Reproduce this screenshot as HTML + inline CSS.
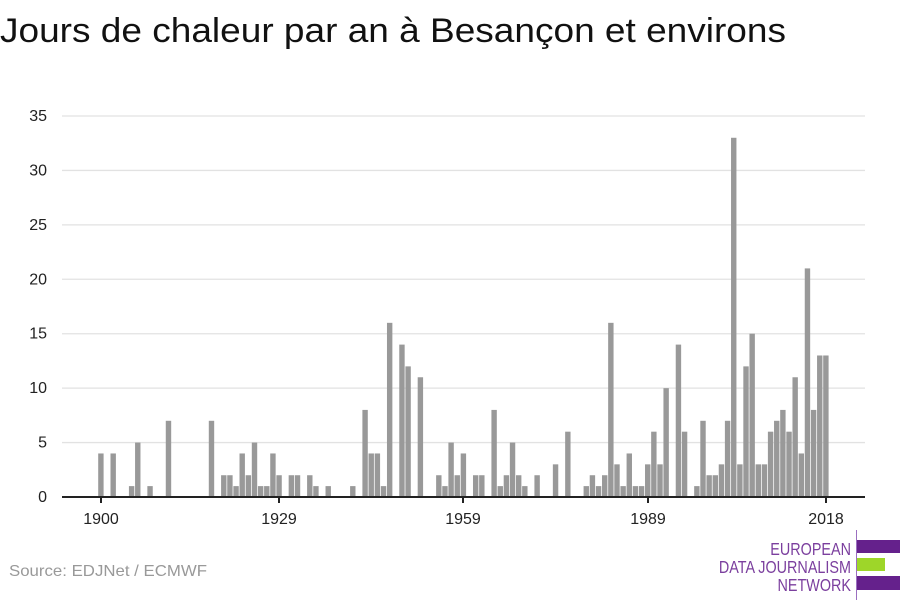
<!DOCTYPE html>
<html><head><meta charset="utf-8"><style>
body{margin:0;background:#fff;width:900px;height:600px;overflow:hidden}
svg{display:block}
text{font-family:"Liberation Sans","DejaVu Sans",sans-serif}
</style></head><body>
<svg id="s" width="900" height="600" xmlns="http://www.w3.org/2000/svg">
<text x="0" y="42" font-size="34" fill="#111" textLength="786" lengthAdjust="spacingAndGlyphs">Jours de chaleur par an à Besançon et environs</text>
<g id="grid"></g>
<g id="bars" fill="#999"></g>
<line x1="62" y1="497" x2="865" y2="497" stroke="#222" stroke-width="2"/>
<g stroke="#222" stroke-width="2">
<line x1="101" y1="497" x2="101" y2="503"/><line x1="279" y1="497" x2="279" y2="503"/>
<line x1="463" y1="497" x2="463" y2="503"/><line x1="648" y1="497" x2="648" y2="503"/>
<line x1="826" y1="497" x2="826" y2="503"/></g>
<g font-size="16" fill="#222" text-anchor="middle">
<text x="101" y="524">1900</text><text x="279" y="524">1929</text><text x="463" y="524">1959</text><text x="648" y="524">1989</text><text x="826" y="524">2018</text></g>
<text x="9" y="576" font-size="16" fill="#999" textLength="198" lengthAdjust="spacingAndGlyphs">Source: EDJNet / ECMWF</text>
<line x1="856.5" y1="530" x2="856.5" y2="600" stroke="#9b6fc0" stroke-width="1"/>
<rect x="857" y="540" width="43" height="13" fill="#65218c"/>
<rect x="857" y="558" width="28" height="13" fill="#9ed629"/>
<rect x="857" y="576" width="43" height="14" fill="#65218c"/>
<g font-size="18" fill="#7b3f9e" text-anchor="end" transform="translate(851,0) scale(0.8,1) translate(-851,0)">
<text x="851" y="555">EUROPEAN</text><text x="851" y="573">DATA JOURNALISM</text><text x="851" y="591">NETWORK</text></g>
</svg>
<script>
var d={1900:4,1902:4,1905:1,1906:5,1908:1,1911:7,1918:7,1920:2,1921:2,1922:1,1923:4,1924:2,1925:5,1926:1,1927:1,1928:4,1929:2,1931:2,1932:2,1934:2,1935:1,1937:1,1941:1,1943:8,1944:4,1945:4,1946:1,1947:16,1949:14,1950:12,1952:11,1955:2,1956:1,1957:5,1958:2,1959:4,1961:2,1962:2,1964:8,1965:1,1966:2,1967:5,1968:2,1969:1,1971:2,1974:3,1976:6,1979:1,1980:2,1981:1,1982:2,1983:16,1984:3,1985:1,1986:4,1987:1,1988:1,1989:3,1990:6,1991:3,1992:10,1994:14,1995:6,1997:1,1998:7,1999:2,2000:2,2001:3,2002:7,2003:33,2004:3,2005:12,2006:15,2007:3,2008:3,2009:6,2010:7,2011:8,2012:6,2013:11,2014:4,2015:21,2016:8,2017:13,2018:13};
var ns="http://www.w3.org/2000/svg",g=document.getElementById('grid'),b=document.getElementById('bars'),u=381/35,px=6.144;
for(var v=5;v<=35;v+=5){var y=497-v*u;var l=document.createElementNS(ns,'line');l.setAttribute('x1',62);l.setAttribute('x2',865);l.setAttribute('y1',y);l.setAttribute('y2',y);l.setAttribute('stroke','#e2e2e2');l.setAttribute('stroke-width',1.3);g.appendChild(l);
var t=document.createElementNS(ns,'text');t.setAttribute('x',47);t.setAttribute('y',y+5);t.setAttribute('font-size',16);t.setAttribute('text-anchor','end');t.setAttribute('fill','#222');t.textContent=v;g.appendChild(t);}
var t0=document.createElementNS(ns,'text');t0.setAttribute('x',47);t0.setAttribute('y',502);t0.setAttribute('font-size',16);t0.setAttribute('text-anchor','end');t0.setAttribute('fill','#222');t0.textContent='0';g.appendChild(t0);
for(var k in d){var x=101+(k-1900)*px;var h=d[k]*u;var r=document.createElementNS(ns,'rect');r.setAttribute('x',x-2.8);r.setAttribute('width',5.4);r.setAttribute('y',497-h);r.setAttribute('height',h);b.appendChild(r);}
</script>
</body></html>
